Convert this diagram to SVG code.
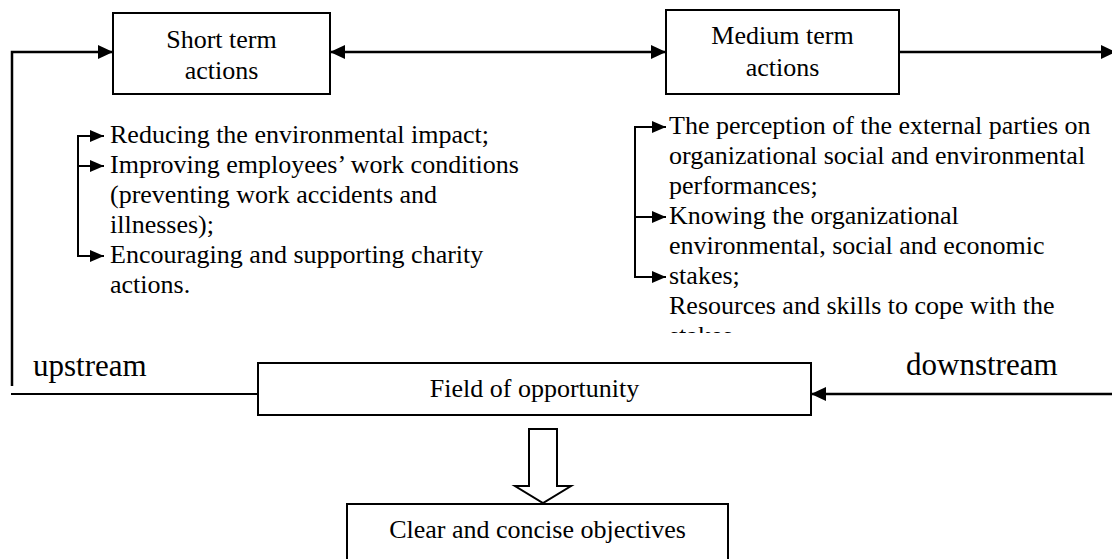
<svg xmlns="http://www.w3.org/2000/svg" width="1112" height="559" viewBox="0 0 1112 559">
<style>
  .box { fill: #fff; stroke: #000; stroke-width: 2; }
  .t { font-family: "Liberation Serif", "Times New Roman", serif; font-size: 26px; fill: #000; }
  .big { font-family: "Liberation Serif", "Times New Roman", serif; font-size: 31px; fill: #000; }
  .c { text-anchor: middle; }
  .ln { fill: none; stroke: #000; stroke-width: 2.5; }
  .thin { fill: none; stroke: #000; stroke-width: 2; }
</style>
<defs>
  <marker id="ah" markerUnits="userSpaceOnUse" markerWidth="16" markerHeight="16" refX="15" refY="7" orient="auto-start-reverse">
    <path d="M0,0 L15,7 L0,14 z" fill="#000"/>
  </marker>
  <marker id="sh" markerUnits="userSpaceOnUse" markerWidth="15" markerHeight="13" refX="14" refY="6" orient="auto">
    <path d="M0,0 L14,6 L0,12 z" fill="#000"/>
  </marker>
  <clipPath id="clipR"><rect x="600" y="100" width="512" height="233"/></clipPath>
</defs>

<g id="connectors">
  <polyline class="ln" points="12,386 12,52 113,52" marker-end="url(#ah)"/>
  <line class="ln" x1="330" y1="52" x2="666" y2="52" marker-start="url(#ah)" marker-end="url(#ah)"/>
  <line class="ln" x1="899" y1="52" x2="1116" y2="52" marker-end="url(#ah)"/>
  <line class="thin" x1="11" y1="394" x2="258" y2="394"/>
  <line class="ln" x1="1112" y1="394" x2="811" y2="394" marker-end="url(#ah)"/>
  <!-- left bracket -->
  <polyline class="thin" points="78,136 78,256 104,256" marker-end="url(#sh)"/>
  <line class="thin" x1="77" y1="136" x2="104" y2="136" marker-end="url(#sh)"/>
  <line class="thin" x1="78" y1="166" x2="104" y2="166" marker-end="url(#sh)"/>
  <!-- right bracket -->
  <polyline class="thin" points="635,127 635,277 666,277" marker-end="url(#sh)"/>
  <line class="thin" x1="634" y1="127" x2="666" y2="127" marker-end="url(#sh)"/>
  <line class="thin" x1="635" y1="217" x2="666" y2="217" marker-end="url(#sh)"/>
  <!-- hollow arrow -->
  <path d="M529,429 L557,429 L557,486 L571,486 L543,503 L515,486 L529,486 Z" fill="#fff" stroke="#000" stroke-width="2"/>
</g>

<g id="short-term">
  <rect class="box" x="113" y="13" width="217" height="81"/>
  <text class="t c" x="221.5" y="48">Short term</text>
  <text class="t c" x="221.5" y="79">actions</text>
</g>

<g id="medium-term">
  <rect class="box" x="666" y="10" width="233" height="84"/>
  <text class="t c" x="782.5" y="44">Medium term</text>
  <text class="t c" x="782.5" y="76">actions</text>
</g>

<g id="short-term-list">
  <text class="t" x="110" y="143">Reducing the environmental impact;</text>
  <text class="t" x="110" y="173">Improving employees’ work conditions</text>
  <text class="t" x="110" y="203">(preventing work accidents and</text>
  <text class="t" x="110" y="233">illnesses);</text>
  <text class="t" x="110" y="263">Encouraging and supporting charity</text>
  <text class="t" x="110" y="293">actions.</text>
</g>

<g id="medium-term-list" clip-path="url(#clipR)">
  <text class="t" x="669" y="134">The perception of the external parties on</text>
  <text class="t" x="669" y="164">organizational social and environmental</text>
  <text class="t" x="669" y="194">performances;</text>
  <text class="t" x="669" y="224">Knowing the organizational</text>
  <text class="t" x="669" y="254">environmental, social and economic</text>
  <text class="t" x="669" y="284">stakes;</text>
  <text class="t" x="669" y="314">Resources and skills to cope with the</text>
  <text class="t" x="669" y="344">stakes.</text>
</g>

<g id="labels">
  <text class="big" x="33" y="376">upstream</text>
  <text class="big" x="906" y="375">downstream</text>
</g>

<g id="field">
  <rect class="box" x="258" y="363" width="553" height="52"/>
  <text class="t c" x="534.5" y="397">Field of opportunity</text>
</g>

<g id="objectives">
  <rect class="box" x="347" y="504" width="381" height="70"/>
  <text class="t c" x="537.5" y="538">Clear and concise objectives</text>
</g>
</svg>
